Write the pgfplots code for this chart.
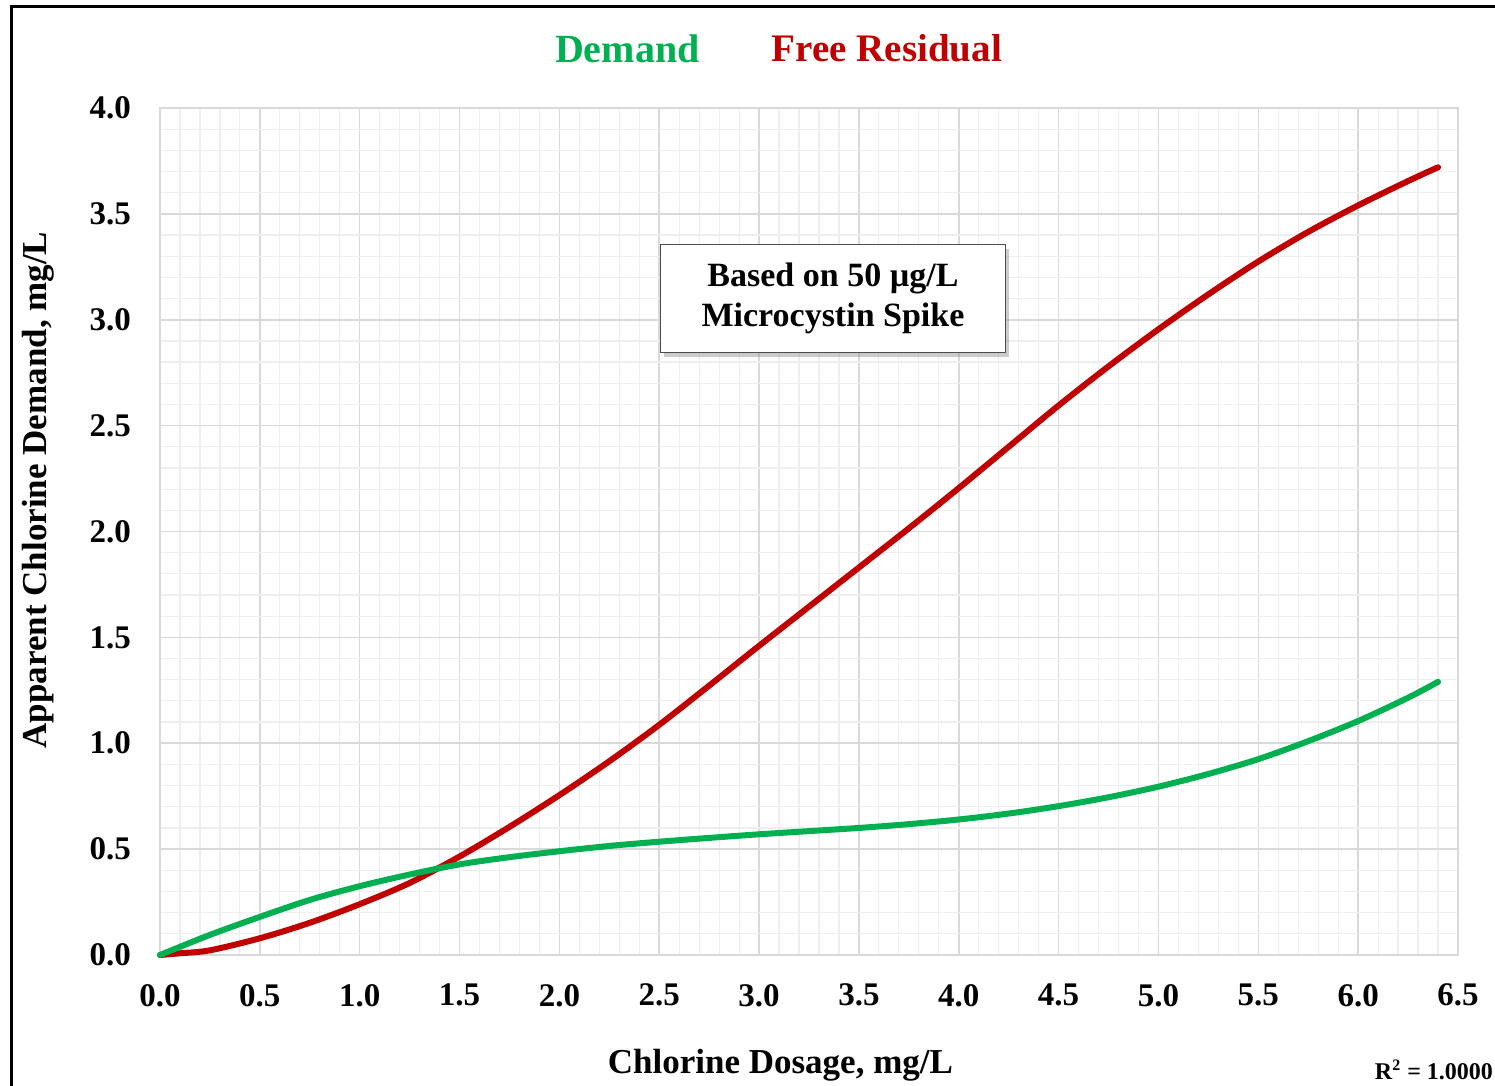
\documentclass[border=0pt]{standalone}
\usepackage{fontspec}
\setmainfont{Liberation Serif}
\usepackage{pgfplots}
\pgfplotsset{compat=1.18}
\usetikzlibrary{shadows}
\definecolor{dgreen}{RGB}{0,176,80}
\definecolor{dred}{RGB}{192,0,0}
\definecolor{majgrid}{RGB}{217,217,217}
\definecolor{mingrid}{RGB}{238,238,238}
\begin{document}
\begin{tikzpicture}
\useasboundingbox (-80pt,-65.5pt) rectangle (667.5pt,477.5pt);
\draw[line width=1.5pt] (-74pt,-66pt) -- (-74pt,474pt) -- (668pt,474pt);
\begin{axis}[
  at={(0pt,0pt)}, anchor=origin,
  scale only axis,
  width=649pt, height=423.5pt,
  xmin=0, xmax=6.5, ymin=0, ymax=4,
  xtick={0,0.5,...,6.5}, ytick={0,0.5,...,4},
  minor x tick num=4, minor y tick num=4,
  grid=both,
  major grid style={majgrid, line width=0.8pt},
  minor grid style={mingrid, line width=0.6pt},
  axis line style={majgrid, line width=0.8pt},
  tick style={draw=none},
  /pgf/number format/assume math mode=true,
  /pgf/number format/.cd, fixed, fixed zerofill, precision=1, /pgfplots/.cd,
  ticklabel style={font=\bfseries\fontsize{16.5}{16.5}\selectfont},
  xticklabel style={yshift=-11pt},
  yticklabel style={xshift=-11pt},
  xlabel={Chlorine Dosage, mg/L},
  ylabel={Apparent Chlorine Demand, mg/L},
  label style={font=\bfseries\fontsize{17.5}{18}\selectfont},
  xlabel style={at={(axis description cs:0.478,0)}, anchor=center, yshift=-55pt},
  ylabel style={at={(axis description cs:0,0.549)}, anchor=center, yshift=61pt},
  clip=false,
]
\addplot[dred, line width=3pt, smooth, line cap=round] coordinates {
(0,0) (0.1,0.008) (0.25,0.022) (0.5,0.079) (0.75,0.152) (1.0,0.24) (1.25,0.34)
(1.5,0.465) (1.75,0.605) (2.0,0.755) (2.25,0.915) (2.5,1.087) (2.75,1.272)
(3.0,1.46) (3.25,1.645) (3.5,1.83) (3.75,2.015) (4.0,2.205) (4.25,2.40)
(4.5,2.595) (4.75,2.78) (5.0,2.955) (5.25,3.12) (5.5,3.275) (5.75,3.415)
(6.0,3.54) (6.25,3.655) (6.4,3.72)
};
\addplot[dgreen, line width=3pt, smooth, line cap=round] coordinates {
(0,0) (0.25,0.095) (0.5,0.18) (0.75,0.26) (1.0,0.325) (1.25,0.38)
(1.5,0.428) (1.75,0.462) (2.0,0.49) (2.25,0.515) (2.5,0.535) (2.75,0.553)
(3.0,0.57) (3.25,0.585) (3.5,0.60) (3.75,0.618) (4.0,0.64) (4.25,0.668)
(4.5,0.703) (4.75,0.745) (5.0,0.795) (5.25,0.855) (5.5,0.925) (5.75,1.01)
(6.0,1.105) (6.25,1.215) (6.4,1.29)
};
\node[draw=black!70, fill=white, line width=0.6pt, drop shadow={opacity=0.4, shadow xshift=2pt, shadow yshift=-2pt},
  minimum width=172.5pt, minimum height=54pt, align=center,
  font=\bfseries\fontsize{17}{20}\selectfont]
  at (axis cs:3.37,3.10) {Based on 50 µg/L\\Microcystin Spike};
\node[font=\bfseries\fontsize{20}{20}\selectfont, text=dgreen] at (rel axis cs:0.360,1.070) {Demand};
\node[font=\bfseries\fontsize{19.5}{20}\selectfont, text=dred] at (rel axis cs:0.560,1.070) {Free Residual};
\node[font=\bfseries\fontsize{12}{12}\selectfont, anchor=east] at (rel axis cs:1.0,0) [yshift=-57.5pt, xshift=21pt] {R\textsuperscript{2} = 1.0000};
\end{axis}
\end{tikzpicture}
\end{document}
